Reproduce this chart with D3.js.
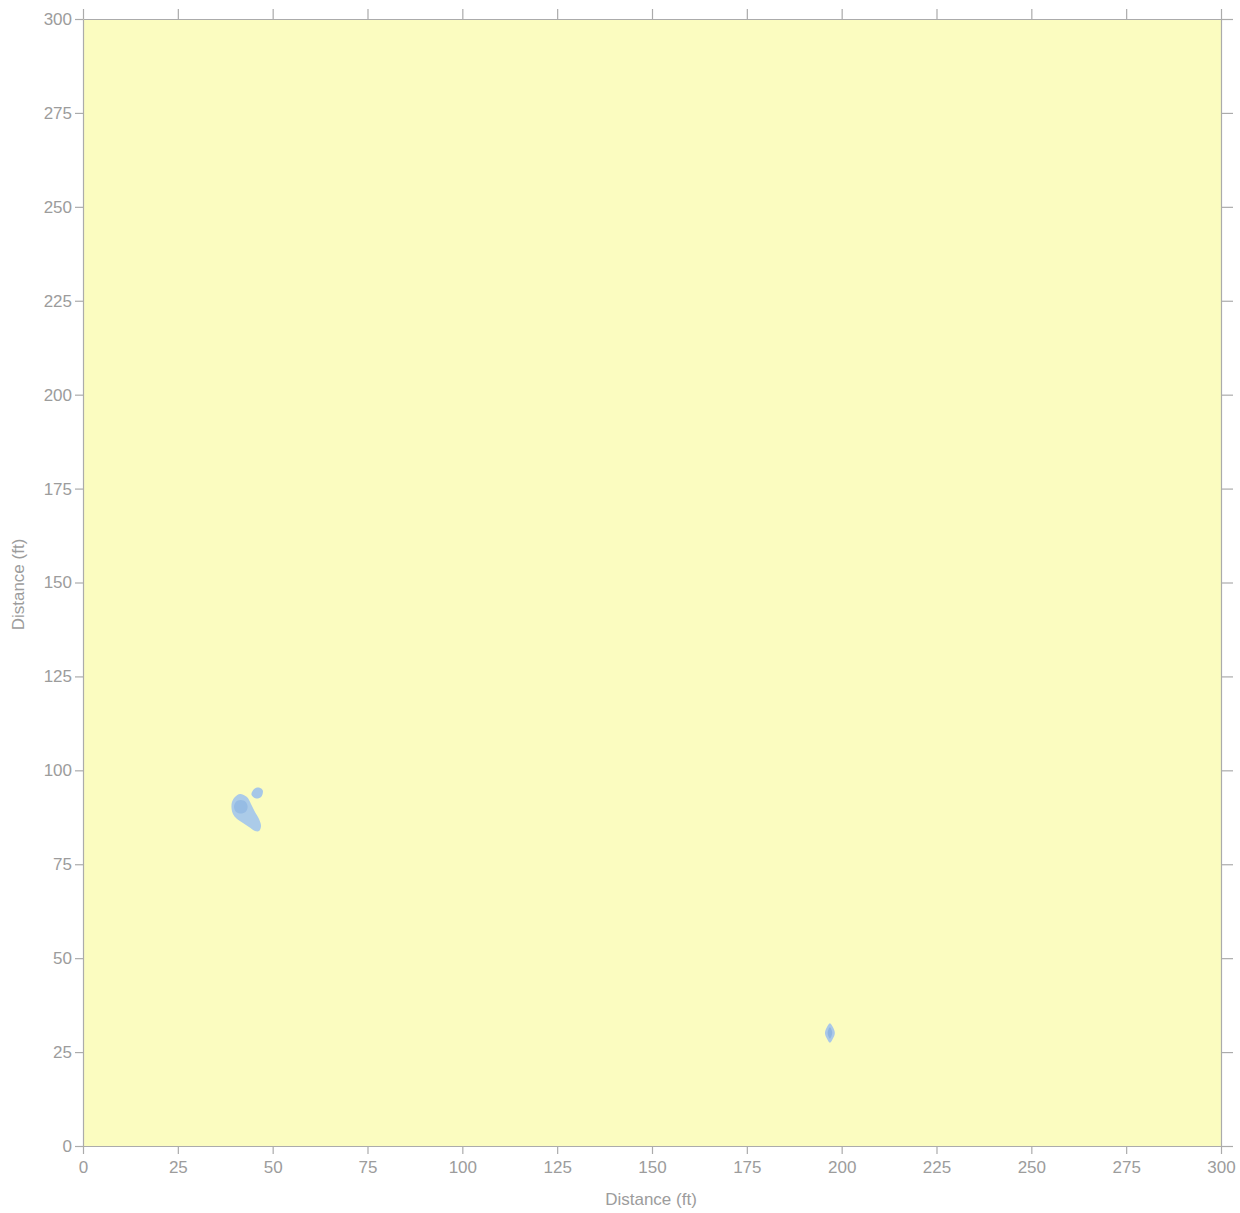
<!DOCTYPE html>
<html><head><meta charset="utf-8">
<script src="https://cdn.jsdelivr.net/npm/d3@7"></script>
<style>
html,body{margin:0;padding:0;background:#fff;}
svg{display:block;font-family:"Liberation Sans",Arial,Helvetica,sans-serif;}
</style></head>
<body>
<svg id="chart" width="1240" height="1213"></svg>
<script>
// ---- data (feet) ----
const xTicks = [0,25,50,75,100,125,150,175,200,225,250,275,300];
const yTicks = [0,25,50,75,100,125,150,175,200,225,250,275,300];
const xLabel = "Distance (ft)";
const yLabel = "Distance (ft)";
// outline of the larger blue patch (x, y in ft)
const patchA = [[41.39,93.70],[40.07,92.90],[39.28,91.57],[39.15,89.97],[39.54,88.38],[40.60,87.05],[42.18,85.98],[43.76,84.92],[45.34,83.85],[46.40,83.85],[46.93,85.18],[46.40,87.05],[45.34,88.91],[44.29,91.04],[43.23,92.90]];
// inner darker core of patch A
const patchACore = [[41.57,92.10],[40.30,91.60],[39.80,90.30],[40.30,89.00],[41.57,88.50],[42.90,89.00],[43.40,90.30],[42.90,91.60]];
// small patch next to it
const patchB = [[44.40,93.60],[45.20,95.10],[46.40,95.40],[47.40,94.60],[47.00,93.00],[45.70,92.50]];
// diamond-shaped patch near (197, 30)
const patchC = [[196.9,32.7],[196.1,31.6],[195.6,30.1],[196.1,28.6],[196.9,27.5],[197.7,28.6],[198.2,30.1],[197.7,31.6]];
const patchCCore = [[196.9,31.6],[196.3,30.1],[196.9,28.6],[197.5,30.1]];

// ---- layout ----
const svg = d3.select("#chart");
const L = 83, R = 1221, T = 19, B = 1146;
const x = d3.scaleLinear().domain([0,300]).range([L,R]);
const y = d3.scaleLinear().domain([0,300]).range([B,T]);
const axisCol = "#ababab", textCol = "#9c9c9c";

svg.append("rect").attr("x",L).attr("y",T).attr("width",R-L).attr("height",B-T).attr("fill","#fbfcc0");

const line = d3.line().x(d=>x(d[0])).y(d=>y(d[1])).curve(d3.curveCatmullRomClosed.alpha(0.5));
function patch(pts, fill){
  svg.append("path").attr("d", line(pts)).attr("fill", fill).attr("stroke","none");
}
patch(patchA, "#abcbe8");
patch(patchACore, "#96bce4");
patch(patchB, "#a6c7e7");
patch(patchC, "#aac8e8");
patch(patchCCore, "#8fb5e2");

function styleAxis(g){
  g.selectAll("path").attr("stroke",axisCol).attr("stroke-width",1.2);
  g.selectAll("line").attr("stroke",axisCol).attr("stroke-width",1.2);
  g.selectAll("text").attr("fill",textCol).style("font-size","17px");
}
const gx = svg.append("g").attr("transform",`translate(0,${B})`)
  .call(d3.axisBottom(x).tickValues(xTicks).tickSize(8).tickPadding(7).tickSizeOuter(0));
styleAxis(gx);
const gy = svg.append("g").attr("transform",`translate(${L},0)`)
  .call(d3.axisLeft(y).tickValues(yTicks).tickSize(8).tickPadding(3).tickSizeOuter(0));
styleAxis(gy);
const gt = svg.append("g").attr("transform",`translate(0,${T})`)
  .call(d3.axisTop(x).tickValues(xTicks).tickSize(10).tickFormat("").tickSizeOuter(0));
styleAxis(gt);
const gr = svg.append("g").attr("transform",`translate(${R},0)`)
  .call(d3.axisRight(y).tickValues(yTicks).tickSize(12).tickFormat("").tickSizeOuter(0));
styleAxis(gr);

svg.append("text").attr("x",651).attr("y",1205).attr("text-anchor","middle")
  .attr("fill",textCol).style("font-size","17px").text(xLabel);
svg.append("text").attr("transform",`translate(24,${(T+B)/2 + 2}) rotate(-90)`).attr("text-anchor","middle")
  .attr("fill",textCol).style("font-size","17px").text(yLabel);
</script>
</body></html>
